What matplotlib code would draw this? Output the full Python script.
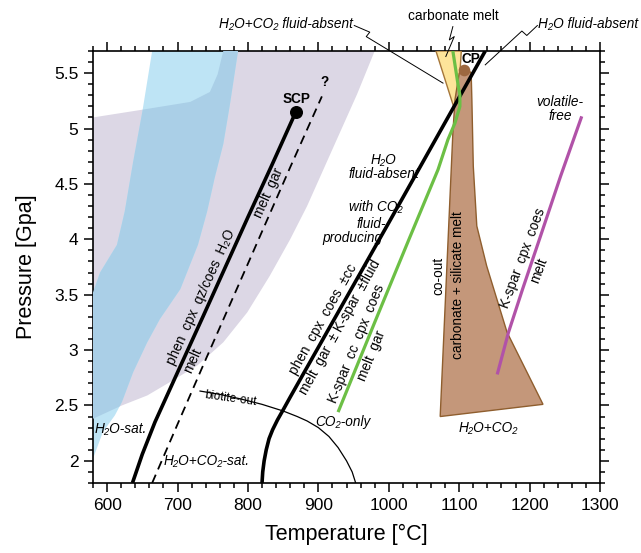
import matplotlib
matplotlib.use("Agg")
import numpy as np
import matplotlib.pyplot as plt
from matplotlib.patches import Polygon
from matplotlib.ticker import MultipleLocator
from matplotlib.transforms import offset_copy

plt.rcParams['font.family'] = ['Liberation Sans', 'DejaVu Sans']

# ---------------- data (T in degC, P in GPa) ----------------
lav_T = [560, 580, 650, 718, 746, 757, 765, 765, 980, 980, 955, 917, 884, 860, 831, 799, 765,
         728, 689, 657, 621, 580, 560]
lav_P = [5.08, 5.10, 5.17, 5.24, 5.33, 5.49, 5.70, 5.90, 5.90, 5.70, 5.31, 4.77, 4.30, 4.00,
         3.67, 3.34, 3.07, 2.86, 2.71, 2.59, 2.50, 2.38, 2.36]

band_T = [666, 664, 650, 637, 625, 614, 590, 580, 560, 560, 570, 580, 594, 611, 621, 637, 657,
          675, 704, 729, 742, 753, 765, 774, 786, 788]
band_P = [5.90, 5.70, 5.15, 4.70, 4.25, 3.95, 3.70, 3.52, 3.30, 1.70, 1.90, 2.02, 2.26, 2.41,
          2.53, 2.80, 3.07, 3.28, 3.55, 3.95, 4.25, 4.56, 4.86, 5.20, 5.70, 5.90]

h2o_sat_T = [636, 650, 668, 703, 736, 768, 800, 834, 868]
h2o_sat_P = [1.80, 2.06, 2.35, 2.84, 3.30, 3.75, 4.20, 4.67, 5.15]
scp = (868, 5.15)

h2o_co2_sat_T = [664, 700, 739, 800, 860, 905]
h2o_co2_sat_P = [1.80, 2.33, 2.90, 3.78, 4.65, 5.29]

h2o_absent_T = [820, 821, 823, 826, 830, 835, 842, 850, 860, 1000, 1137]
h2o_absent_P = [1.80, 1.90, 2.00, 2.10, 2.20, 2.28, 2.37, 2.46, 2.575, 4.15, 5.70]

co2_only_T = [928, 980, 1030, 1070, 1084, 1094, 1101, 1101, 1098, 1091]
co2_only_P = [2.44, 3.25, 4.02, 4.63, 4.90, 5.05, 5.20, 5.30, 5.41, 5.70]

vfree_T = [1154, 1170, 1190, 1215, 1244, 1274]
vfree_P = [2.78, 3.16, 3.55, 4.02, 4.57, 5.11]

biot_T = [732, 760, 789, 820, 850, 870, 884, 900, 915, 928, 940, 948, 953]
biot_P = [2.63, 2.60, 2.56, 2.51, 2.45, 2.40, 2.36, 2.30, 2.22, 2.12, 2.00, 1.90, 1.80]

melt_T = [1073, 1091, 1094, 1100, 1107, 1117, 1118, 1120, 1125, 1139, 1168, 1219]
melt_P = [2.40, 4.96, 5.26, 5.50, 5.57, 5.50, 5.26, 4.66, 4.12, 3.76, 3.16, 2.51]
cp = (1107, 5.53)

carb_T = [1067, 1103, 1097]
carb_P = [5.70, 5.70, 5.10]

xticks = [600, 700, 800, 900, 1000, 1100, 1200, 1300]
yticks = [2, 2.5, 3, 3.5, 4, 4.5, 5, 5.5]
yticklabels = ['2', '2.5', '3', '3.5', '4', '4.5', '5', '5.5']

# ---------------- figure ----------------
fig = plt.figure(figsize=(6.41, 5.53), dpi=100)
ax = fig.add_axes([0.1451, 0.1266, 0.7910, 0.7812])
ax.set_xlim(580, 1300)
ax.set_ylim(1.8, 5.7)

LAV = '#dcd7e5'
BLUE = '#bee4f5'
BLUE2 = '#aacfe7'

lav = Polygon(list(zip(lav_T, lav_P)), closed=True, facecolor=LAV, edgecolor='none', zorder=1)
ax.add_patch(lav)
band = Polygon(list(zip(band_T, band_P)), closed=True, facecolor=BLUE, edgecolor='none', zorder=2)
ax.add_patch(band)
band2 = Polygon(list(zip(band_T, band_P)), closed=True, facecolor=BLUE2, edgecolor='none', zorder=3)
ax.add_patch(band2)
band2.set_clip_path(lav)

ax.add_patch(Polygon(list(zip(carb_T, carb_P)), closed=True, facecolor='#fde49a',
                     edgecolor='#a5763a', lw=1.0, zorder=4))
ax.add_patch(Polygon(list(zip(melt_T, melt_P)), closed=True, facecolor='#c4977a',
                     edgecolor='#8f5e2e', lw=1.0, zorder=5))
ax.scatter([cp[0]], [cp[1]], s=70, color='#9d6840', zorder=6, linewidths=0)

ax.plot(biot_T, biot_P, color='black', lw=0.9, zorder=7)
ax.plot(h2o_co2_sat_T, h2o_co2_sat_P, color='black', lw=1.3, ls=(0, (5, 3.2)), zorder=7)
ax.plot(h2o_sat_T, h2o_sat_P, color='black', lw=2.6, zorder=8, solid_capstyle='butt')
ax.scatter([scp[0]], [scp[1]], s=70, color='black', zorder=9)
ax.plot(h2o_absent_T, h2o_absent_P, color='black', lw=2.6, zorder=8, solid_capstyle='butt',
        solid_joinstyle='round')
ax.plot(co2_only_T, co2_only_P, color='#6cbf45', lw=2.3, zorder=9, solid_capstyle='butt',
        solid_joinstyle='round')
ax.plot(vfree_T, vfree_P, color='#b152a8', lw=2.3, zorder=9, solid_capstyle='butt',
        solid_joinstyle='round')

# ---------------- axes styling ----------------
ax.set_xticks(xticks)
ax.set_yticks(yticks)
ax.set_yticklabels(yticklabels)
ax.xaxis.set_minor_locator(MultipleLocator(20))
ax.yaxis.set_minor_locator(MultipleLocator(0.1))
ax.tick_params(which='both', direction='out', top=True, right=True, width=1.1, colors='black')
ax.tick_params(which='major', length=6.5, labelsize=12.5, pad=4)
ax.tick_params(which='minor', length=3.6)
for s in ax.spines.values():
    s.set_linewidth(1.2)
ax.set_xlabel('Temperature [°C]', fontsize=15.5, labelpad=8)
ax.set_ylabel('Pressure [Gpa]', fontsize=15.5, labelpad=12)

# ---------------- text ----------------
fs = 9.8
def t(x, y, s, **kw):
    kw.setdefault('fontsize', fs)
    kw.setdefault('ha', 'center')
    kw.setdefault('va', 'center')
    ax.text(x, y, s, zorder=10, **kw)

def rt(x, y, s, rot, **kw):
    t(x, y, s, rotation=rot, rotation_mode='anchor', **kw)

def line_label(x, y, s, rot, side, gap=1.6):
    # side 'left' -> text above the line in its rotated frame, 'right' -> below
    th = np.deg2rad(rot)
    d = gap if side == 'left' else -gap
    tr = offset_copy(ax.transData, fig=fig, x=-d * np.sin(th), y=d * np.cos(th), units='points')
    ax.text(x, y, s, transform=tr, rotation=rot, rotation_mode='anchor', ha='center',
            va='bottom' if side == 'left' else 'top', fontsize=fs, zorder=10)

t(869, 5.27, 'SCP', fontweight='bold')
t(909, 5.42, '?', fontweight='bold')
t(1117, 5.63, 'CP', fontweight='bold')
t(1243, 5.18, 'volatile-\nfree', style='italic', linespacing=1.0)
t(993, 4.65, 'H₂O\nfluid-absent', style='italic', linespacing=1.0)
t(981, 4.29, 'with CO₂', style='italic')
t(975, 4.14, 'fluid-', style='italic')
t(949, 4.01, 'producing', style='italic')
rt(1070, 3.67, 'co-out', 90)
rt(1098, 3.59, 'carbonate + silicate melt', 90)
t(1141, 2.30, 'H₂O+CO₂', style='italic')
t(935, 2.35, 'CO₂-only', style='italic')
rt(775, 2.56, 'biotite-out', -8, fontsize=8.6)
t(582, 2.29, 'H₂O-sat.', style='italic', ha='left')
t(741, 2.00, 'H₂O+CO₂-sat.', style='italic')

# labels along the boundary lines
line_label(745, 3.44, 'phen  cpx  qz/coes  H₂O', 65.6, 'left')
line_label(710, 2.94, 'melt', 65.6, 'right')
line_label(817, 4.45, 'melt  gar', 65.6, 'right')
line_label(919, 3.24, 'phen  cpx  coes  ±cc', 60.8, 'left')
line_label(920, 3.25, 'melt  gar  ± K-spar  ±fluid', 60.8, 'right')
line_label(966, 3.03, 'K-spar  cc  cpx  coes', 67.7, 'left')
line_label(963, 2.98, 'melt  gar', 67.7, 'right')
line_label(1203, 3.80, 'K-spar  cpx  coes', 69.5, 'left')
line_label(1201, 3.75, 'melt', 69.5, 'right')

# annotations above the frame with leader lines
t(949, 5.94, 'H₂O+CO₂ fluid-absent', style='italic', ha='right', clip_on=False)
t(1091, 6.02, 'carbonate melt', clip_on=False)
t(1212, 5.94, 'H₂O fluid-absent', style='italic', ha='left', clip_on=False)
ax.plot([951, 973, 968, 1077], [5.93, 5.87, 5.83, 5.41], color='black', lw=0.7, clip_on=False, zorder=10)
ax.plot([1091, 1086, 1093, 1081], [5.92, 5.80, 5.83, 5.65], color='black', lw=0.7, clip_on=False, zorder=10)
ax.plot([1211, 1196, 1189, 1137], [5.93, 5.84, 5.88, 5.575], color='black', lw=0.7, clip_on=False, zorder=10)

fig.savefig('out.png', dpi=100)
